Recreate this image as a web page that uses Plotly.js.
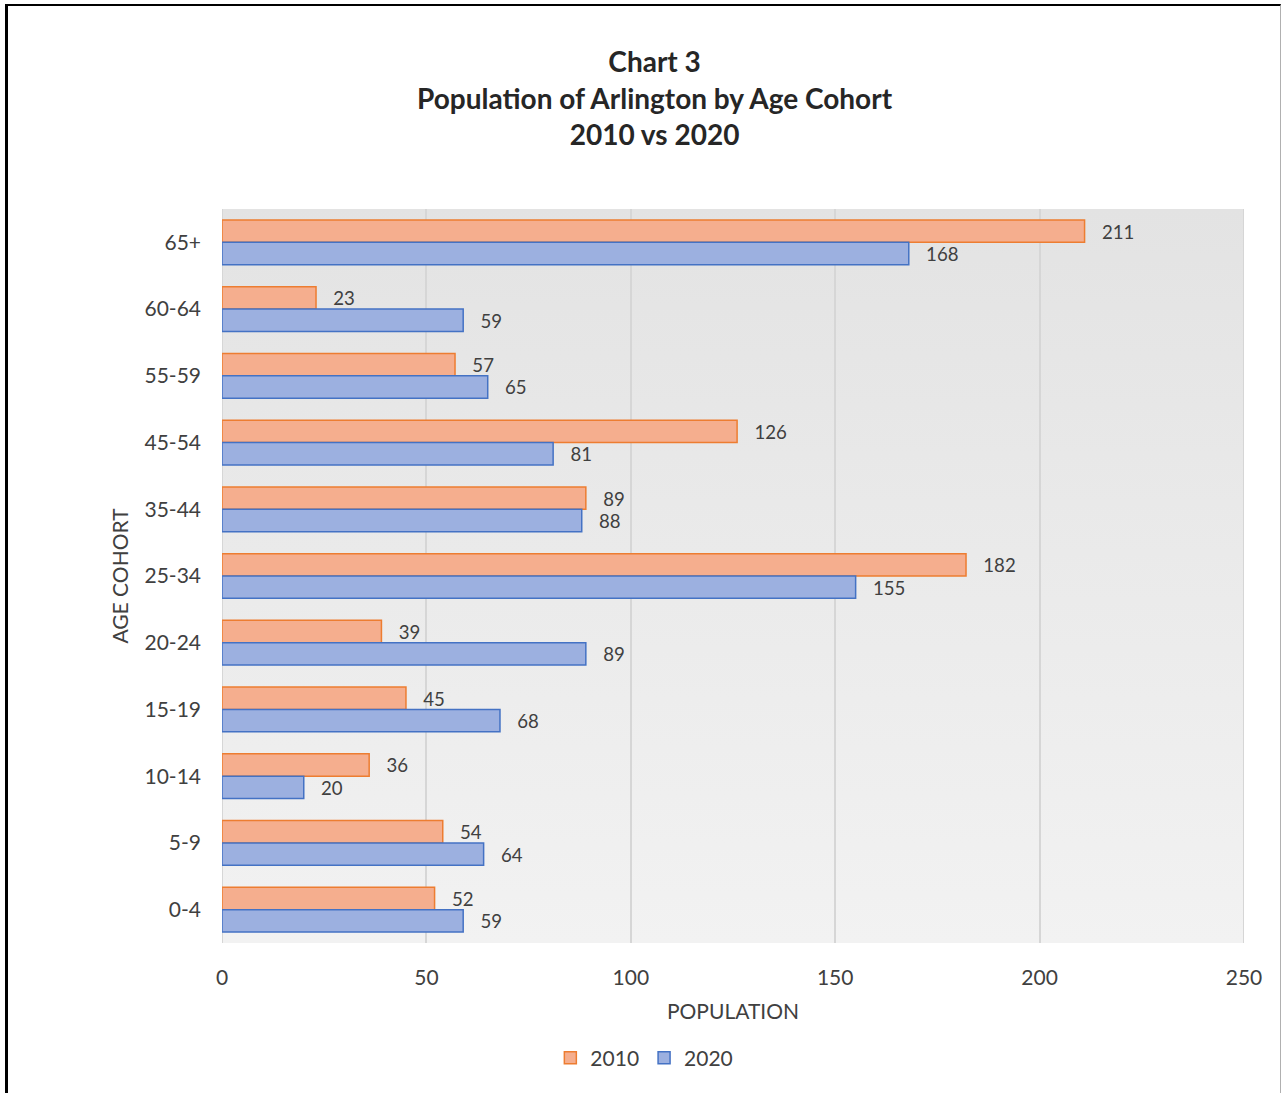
<!DOCTYPE html>
<html>
<head>
<meta charset="utf-8">
<script src="https://cdn.plot.ly/plotly-3.0.1.min.js"></script>
<style>
html,body{margin:0;padding:0;background:#fff;}
#chart{width:1281px;height:1093px;}
#frame{position:absolute;left:5px;top:4px;width:1272px;height:1100px;border-left:3px solid #000;border-top:2px solid #000;border-right:1px solid #b0b0b0;pointer-events:none;}
</style>
</head>
<body>
<div id="chart"></div>
<div id="frame"></div>
<script>
const cohorts = ["65+","60-64","55-59","45-54","35-44","25-34","20-24","15-19","10-14","5-9","0-4"];
const pop2010 = [211,23,57,126,89,182,39,45,36,54,52];
const pop2020 = [168,59,65,81,88,155,89,68,20,64,59];
const xTicks = [0,50,100,150,200,250];

const font = "Lato, 'Open Sans', sans-serif";
const bgSvg = "data:image/svg+xml;charset=utf-8," + encodeURIComponent(
  '<svg xmlns="http://www.w3.org/2000/svg" width="100" height="100" preserveAspectRatio="none">' +
  '<defs><linearGradient id="g" x1="0" y1="0" x2="0" y2="1">' +
  '<stop offset="0" stop-color="#e3e3e3"/><stop offset="1" stop-color="#f2f2f2"/></linearGradient></defs>' +
  '<rect width="100" height="100" fill="url(#g)"/></svg>');

const traces = [
  {type:"bar", orientation:"h", name:"2010", y:cohorts, x:pop2010,
   marker:{color:"#f5ae8e", line:{color:"#ed7d31", width:1.5}},
   text:pop2010.map(String), texttemplate:"   %{x}", textposition:"outside", cliponaxis:false,
   textfont:{family:font, size:20, color:"#404040"}, hoverinfo:"x+name"},
  {type:"bar", orientation:"h", name:"2020", y:cohorts, x:pop2020,
   marker:{color:"#9cb0e0", line:{color:"#4472c4", width:1.5}},
   text:pop2020.map(String), texttemplate:"   %{x}", textposition:"outside", cliponaxis:false,
   textfont:{family:font, size:20, color:"#404040"}, hoverinfo:"x+name"}
];

const layout = {
  width:1281, height:1093,
  margin:{l:222, r:37, t:209, b:150, pad:0},
  paper_bgcolor:"#ffffff",
  plot_bgcolor:"rgba(0,0,0,0)",
  font:{family:font, size:20, color:"#404040"},
  title:{text:"<b>Chart 3</b><br><b>Population of Arlington by Age Cohort</b><br><b>2010 vs 2020</b>",
         x:0.511, xref:"container", xanchor:"center", y:0.934, yref:"container", yanchor:"top",
         font:{family:font, size:28, color:"#262626"}},
  barmode:"group", bargap:0.33, bargroupgap:0,
  xaxis:{range:[0,250], tickvals:xTicks, ticktext:xTicks.map(String), showgrid:true,
         gridcolor:"#d6d6d6", gridwidth:2, zeroline:false, showline:false, ticks:"",
         ticklabelstandoff:20,
         tickfont:{family:font, size:21, color:"#404040"},
         title:{text:"POPULATION", font:{family:font, size:21, color:"#404040"}, standoff:16}},
  yaxis:{type:"category", autorange:"reversed", showgrid:false, zeroline:false, showline:false,
         ticks:"", ticklabelstandoff:20,
         tickfont:{family:font, size:21, color:"#404040"},
         title:{text:"AGE COHORT", font:{family:font, size:21, color:"#404040"}, standoff:10}},
  shapes:[
    {type:"line", xref:"x", yref:"paper", x0:0, x1:0, y0:0, y1:1, line:{color:"#d6d6d6", width:2}, layer:"below"},
    {type:"line", xref:"x", yref:"paper", x0:250, x1:250, y0:0, y1:1, line:{color:"#d6d6d6", width:2}, layer:"below"}
  ],
  images:[{source:bgSvg, xref:"paper", yref:"paper", x:0, y:1, sizex:1, sizey:1,
           sizing:"stretch", xanchor:"left", yanchor:"top", layer:"below"}],
  showlegend:true,
  legend:{orientation:"h", x:0.503, xref:"container", xanchor:"center", y:0.032, yref:"container", yanchor:"middle",
          font:{family:font, size:21, color:"#404040"}, itemwidth:30, traceorder:"normal"}
};

Plotly.newPlot("chart", traces, layout, {displayModeBar:false, staticPlot:true});
</script>
</body>
</html>
